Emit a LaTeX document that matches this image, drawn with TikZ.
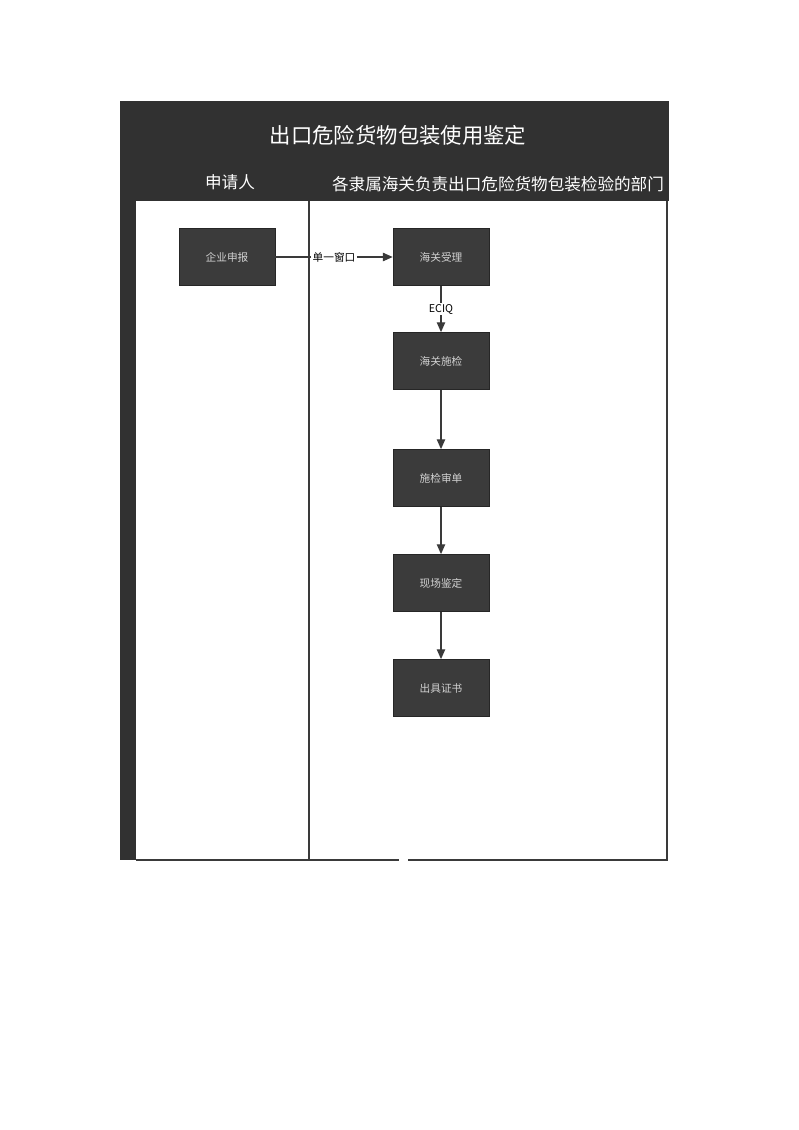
\documentclass[tikz,border=0pt]{standalone}
\usepackage{fontspec}
\setmainfont{Noto Sans CJK SC}
\usetikzlibrary{arrows.meta}
\definecolor{hdr}{HTML}{313131}
\definecolor{boxc}{HTML}{3B3B3B}
\definecolor{linec}{HTML}{3A3A3A}
\tikzset{
  stepbox/.style={draw=black!85, fill=boxc, text=white!82!black, minimum width=2.4cm, minimum height=1.43cm, font=\fontsize{7.6}{9}\selectfont},
  flow/.style={thick, draw=linec, -{Triangle[length=7pt,width=6pt]}},
  tag/.style={fill=white, inner sep=1pt, text=black, font=\fontsize{7.6}{9}\selectfont}
}
\begin{document}
\begin{tikzpicture}[x=0.025cm, y=-0.025cm]
    \useasboundingbox[fill=white] (0,0) rectangle (799,1130);
    % pool
    \fill[hdr] (120,101) rectangle (669,201);
    \fill[hdr] (120,201) rectangle (136,860);
    \draw[thick, linec] (136,860) -- (399,860);
    \draw[thick, linec] (408,860) -- (667,860) -- (667,201);
    \draw[thick, linec] (309,201) -- (309,860);
    \node[text=white, font=\fontsize{15.2}{18}\selectfont] (title) at (398,135) {出口危险货物包装使用鉴定};
    \node[text=white, font=\fontsize{11.8}{14}\selectfont] (lane1) at (230,182) {申请人};
    \node[text=white, font=\fontsize{11.8}{14}\selectfont] (lane2) at (498,184) {各隶属海关负责出口危险货物包装检验的部门};

    % steps
    \node[stepbox] (sb) at (227,257) {企业申报};
    \node[stepbox] (sl) at (441,257) {海关受理};
    \node[stepbox] (sj) at (441,361) {海关施检};
    \node[stepbox] (sd) at (441,478) {施检审单};
    \node[stepbox] (jd) at (441,583) {现场鉴定};
    \node[stepbox] (zs) at (441,688) {出具证书};

    \draw[flow] (sb) -- node[tag]{单一窗口} (sl);
    \draw[flow] (sl) -- node[tag]{ECIQ} (sj);
    \draw[flow] (sj) -- (sd);
    \draw[flow] (sd) -- (jd);
    \draw[flow] (jd) -- (zs);
\end{tikzpicture}
\end{document}
